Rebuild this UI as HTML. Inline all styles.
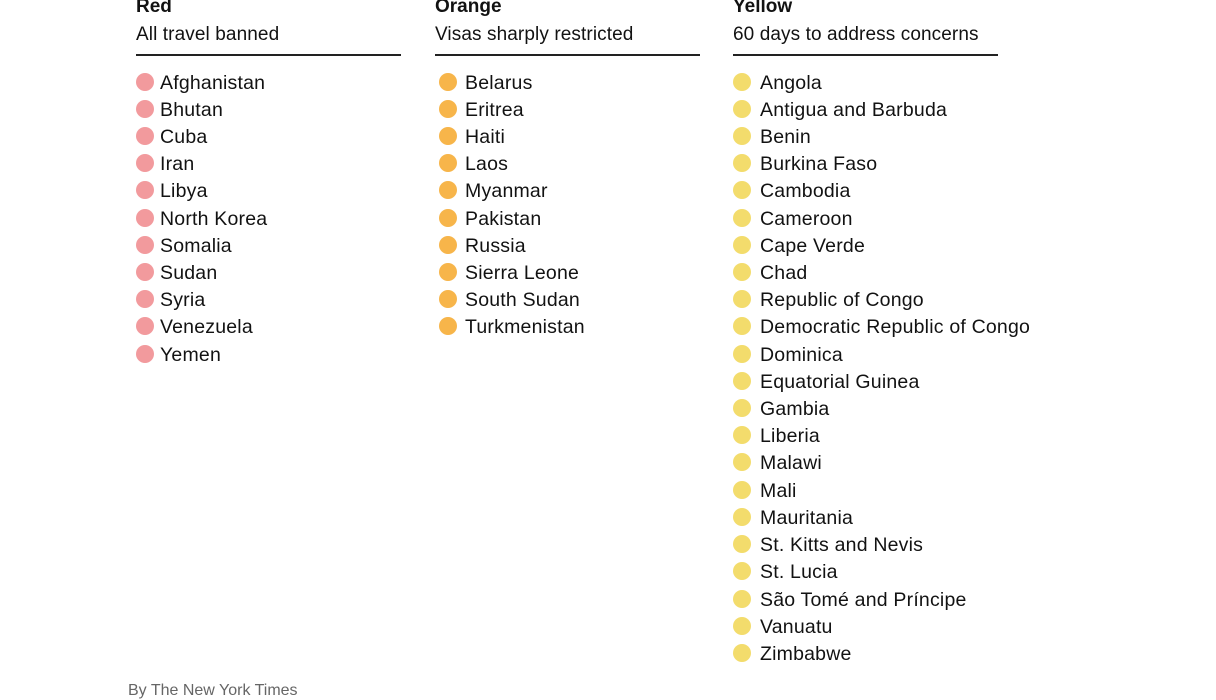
<!DOCTYPE html>
<html><head><style>
body{margin:0;width:1216px;height:684px;overflow:hidden;background:#fff;font-family:"Liberation Sans",sans-serif;color:#121212;position:relative}
.col{position:absolute;top:2px}
.h{position:absolute;left:0;top:-6px;font-weight:bold;font-size:19px;line-height:22px;white-space:nowrap}
.s{position:absolute;left:0;top:21px;font-size:19px;line-height:24px;white-space:nowrap;letter-spacing:0.1px}
.ln{position:absolute;left:0;top:52px;width:265px;height:1.5px;background:#222}
.it{position:absolute;left:0;height:27px;line-height:27px;font-size:19.5px;white-space:nowrap;padding-left:24px;letter-spacing:0.2px}
.it:before{content:"";position:absolute;left:0;top:3px;width:18px;height:18px;border-radius:50%;background:var(--c)}
.f{position:absolute;left:128px;top:682px;font-size:16px;color:#666}
</style></head><body>
<div class="col" style="left:136px;--c:#f29a9d">
<div class="h">Red</div><div class="s">All travel banned</div><div class="ln"></div>
<div class="it" style="top:68px">Afghanistan</div>
<div class="it" style="top:95px">Bhutan</div>
<div class="it" style="top:122px">Cuba</div>
<div class="it" style="top:149px">Iran</div>
<div class="it" style="top:176px">Libya</div>
<div class="it" style="top:204px">North Korea</div>
<div class="it" style="top:231px">Somalia</div>
<div class="it" style="top:258px">Sudan</div>
<div class="it" style="top:285px">Syria</div>
<div class="it" style="top:312px">Venezuela</div>
<div class="it" style="top:340px">Yemen</div>
</div>
<div class="col" style="left:435px;--c:#f7b54a">
<div class="h">Orange</div><div class="s">Visas sharply restricted</div><div class="ln"></div>
<div class="it" style="top:68px;left:4px;padding-left:26px">Belarus</div>
<div class="it" style="top:95px;left:4px;padding-left:26px">Eritrea</div>
<div class="it" style="top:122px;left:4px;padding-left:26px">Haiti</div>
<div class="it" style="top:149px;left:4px;padding-left:26px">Laos</div>
<div class="it" style="top:176px;left:4px;padding-left:26px">Myanmar</div>
<div class="it" style="top:204px;left:4px;padding-left:26px">Pakistan</div>
<div class="it" style="top:231px;left:4px;padding-left:26px">Russia</div>
<div class="it" style="top:258px;left:4px;padding-left:26px">Sierra Leone</div>
<div class="it" style="top:285px;left:4px;padding-left:26px">South Sudan</div>
<div class="it" style="top:312px;left:4px;padding-left:26px">Turkmenistan</div>
</div>
<div class="col" style="left:733px;--c:#f3dc6c">
<div class="h">Yellow</div><div class="s">60 days to address concerns</div><div class="ln"></div>
<div class="it" style="top:68px;padding-left:27px">Angola</div>
<div class="it" style="top:95px;padding-left:27px">Antigua and Barbuda</div>
<div class="it" style="top:122px;padding-left:27px">Benin</div>
<div class="it" style="top:149px;padding-left:27px">Burkina Faso</div>
<div class="it" style="top:176px;padding-left:27px">Cambodia</div>
<div class="it" style="top:204px;padding-left:27px">Cameroon</div>
<div class="it" style="top:231px;padding-left:27px">Cape Verde</div>
<div class="it" style="top:258px;padding-left:27px">Chad</div>
<div class="it" style="top:285px;padding-left:27px">Republic of Congo</div>
<div class="it" style="top:312px;padding-left:27px">Democratic Republic of Congo</div>
<div class="it" style="top:340px;padding-left:27px">Dominica</div>
<div class="it" style="top:367px;padding-left:27px">Equatorial Guinea</div>
<div class="it" style="top:394px;padding-left:27px">Gambia</div>
<div class="it" style="top:421px;padding-left:27px">Liberia</div>
<div class="it" style="top:448px;padding-left:27px">Malawi</div>
<div class="it" style="top:476px;padding-left:27px">Mali</div>
<div class="it" style="top:503px;padding-left:27px">Mauritania</div>
<div class="it" style="top:530px;padding-left:27px">St. Kitts and Nevis</div>
<div class="it" style="top:557px;padding-left:27px">St. Lucia</div>
<div class="it" style="top:585px;padding-left:27px">São Tomé and Príncipe</div>
<div class="it" style="top:612px;padding-left:27px">Vanuatu</div>
<div class="it" style="top:639px;padding-left:27px">Zimbabwe</div>
</div>
<div class="f">By The New York Times</div>
</body></html>
